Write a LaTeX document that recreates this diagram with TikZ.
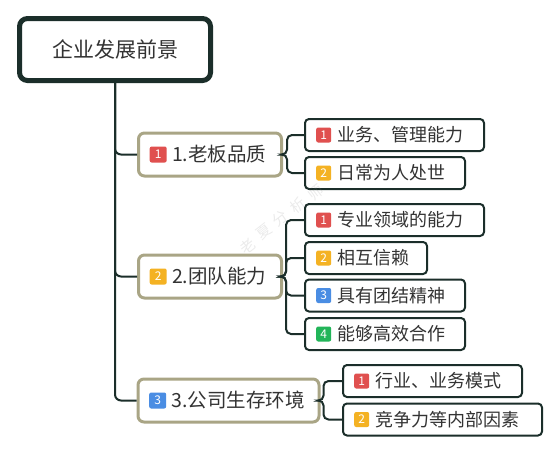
\documentclass[tikz,border=0pt]{standalone}
\usepackage{fontspec}
\setmainfont{Noto Sans CJK SC}
\begin{document}
\begin{tikzpicture}[x=1pt,y=-1pt,
  rootbox/.style={draw=linedark, line width=5pt, rounded corners=8pt, fill=white, inner sep=0pt, font=\fontsize{21}{24}\selectfont, text=txt},
  topic/.style={draw=khaki, line width=3pt, rounded corners=6pt, fill=white, inner sep=0pt, minimum height=43pt},
  sub/.style={draw=linedark, line width=2pt, rounded corners=4pt, fill=white, inner sep=0pt, minimum height=32pt},
  badge/.style={rounded corners=2pt, inner sep=0pt, text=white, font=\fontsize{12}{13}\selectfont},
  tbadge/.style={badge, minimum width=17pt, minimum height=16pt, anchor=west},
  sbadge/.style={badge, minimum width=15pt, minimum height=15pt, anchor=west},
  ttext/.style={anchor=west, inner sep=0pt, text=txt, font=\fontsize{19.5}{22}\selectfont},
  stext/.style={anchor=west, inner sep=0pt, text=txt, font=\fontsize{18}{21}\selectfont},
  link/.style={draw=linedark, line width=2pt, rounded corners=6pt},
  wmark/.style={text=gray, opacity=0.16, inner sep=0pt, font=\fontsize{15}{16}\selectfont, rotate=38}
]
\definecolor{linedark}{HTML}{1B2E2A}
\definecolor{khaki}{HTML}{A9A585}
\definecolor{txt}{HTML}{333333}
\definecolor{bred}{HTML}{E0504F}
\definecolor{bora}{HTML}{F4B223}
\definecolor{bblue}{HTML}{4A8DE3}
\definecolor{bgreen}{HTML}{22B559}
\useasboundingbox (0,0) rectangle (559,453);

% root
\node[rootbox, minimum width=191pt, minimum height=62pt] (root) at (115,49.5) {企业发展前景};

% topics
\node[topic, minimum width=143pt] (t1) at (210,154.5) {};
\node[topic, minimum width=143pt] (t2) at (210,276.5) {};
\node[topic, minimum width=181pt] (t3) at (228.5,400.5) {};

% subtopics
\node[sub, minimum width=179pt] (s11) at (394.5,135) {};
\node[sub, minimum width=160pt] (s12) at (385,173) {};
\node[sub, minimum width=179pt] (s21) at (394.5,220) {};
\node[sub, minimum width=122pt] (s22) at (366,258) {};
\node[sub, minimum width=160pt] (s23) at (385,295.5) {};
\node[sub, minimum width=160pt] (s24) at (385,334) {};
\node[sub, minimum width=179pt] (s31) at (432.5,381) {};
\node[sub, minimum width=199pt] (s32) at (442.5,419.5) {};

% connectors
\draw[link] (root.south) |- (t1.west);
\draw[link] (root.south) |- (t2.west);
\draw[link] (root.south) |- (t3.west);
\foreach \s in {s11,s12} \draw[link, rounded corners=5pt] (t1.east) -- ++(4,0) |- (\s.west);
\foreach \s in {s21,s22,s23,s24} \draw[link, rounded corners=5pt] (t2.east) -- ++(3,0) |- (\s.west);
\foreach \s in {s31,s32} \draw[link, rounded corners=5pt] (t3.east) -- ++(3,0) |- (\s.west);

% topic contents
\node[tbadge, fill=bred] (t1b) at ([xshift=12.5pt]t1.west) {1};
\node[ttext] (t1t) at ([xshift=5pt]t1b.east) {1.老板品质};
\node[tbadge, fill=bora] (t2b) at ([xshift=12.5pt]t2.west) {2};
\node[ttext] (t2t) at ([xshift=5pt]t2b.east) {2.团队能力};
\node[tbadge, fill=bblue] (t3b) at ([xshift=12.5pt]t3.west) {3};
\node[ttext] (t3t) at ([xshift=5pt]t3b.east) {3.公司生存环境};

% subtopic contents
\node[sbadge, fill=bred] (s11b) at ([xshift=12pt]s11.west) {1};
\node[stext] (s11t) at ([xshift=6pt]s11b.east) {业务、管理能力};
\node[sbadge, fill=bora] (s12b) at ([xshift=12pt]s12.west) {2};
\node[stext] (s12t) at ([xshift=6pt]s12b.east) {日常为人处世};
\node[sbadge, fill=bred] (s21b) at ([xshift=12pt]s21.west) {1};
\node[stext] (s21t) at ([xshift=6pt]s21b.east) {专业领域的能力};
\node[sbadge, fill=bora] (s22b) at ([xshift=12pt]s22.west) {2};
\node[stext] (s22t) at ([xshift=6pt]s22b.east) {相互信赖};
\node[sbadge, fill=bblue] (s23b) at ([xshift=12pt]s23.west) {3};
\node[stext] (s23t) at ([xshift=6pt]s23b.east) {具有团结精神};
\node[sbadge, fill=bgreen] (s24b) at ([xshift=12pt]s24.west) {4};
\node[stext] (s24t) at ([xshift=6pt]s24b.east) {能够高效合作};
\node[sbadge, fill=bred] (s31b) at ([xshift=12pt]s31.west) {1};
\node[stext] (s31t) at ([xshift=6pt]s31b.east) {行业、业务模式};
\node[sbadge, fill=bora] (s32b) at ([xshift=12pt]s32.west) {2};
\node[stext] (s32t) at ([xshift=6pt]s32b.east) {竞争力等内部因素};

% watermark (one node per character)
\node[wmark] (wm1) at (248,246) {老};
\node[wmark] (wm2) at (264,232) {夏};
\node[wmark] (wm3) at (280,219) {分};
\node[wmark] (wm4) at (298,205) {析};
\node[wmark] (wm5) at (316,192) {师};
\end{tikzpicture}
\end{document}
